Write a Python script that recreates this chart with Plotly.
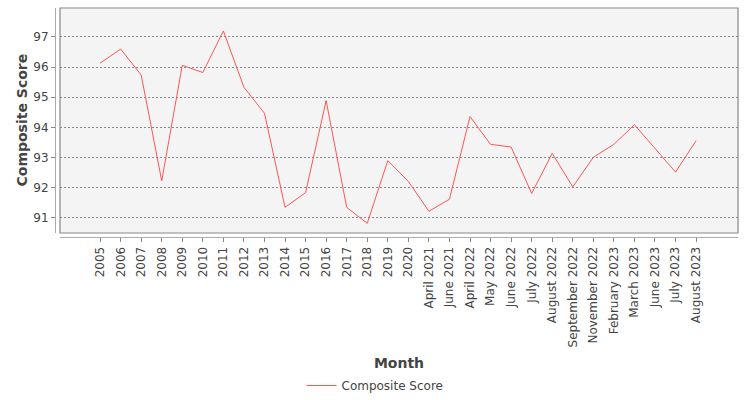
import plotly.graph_objects as go

# categories on the x axis
months = ["2005", "2006", "2007", "2008", "2009", "2010", "2011", "2012",
          "2013", "2014", "2015", "2016", "2017", "2018", "2019", "2020",
          "April 2021", "June 2021", "April 2022", "May 2022", "June 2022",
          "July 2022", "August 2022", "September 2022", "November 2022",
          "February 2023", "March 2023", "June 2023", "July 2023",
          "August 2023"]

# composite score per month
scores = [96.13, 96.60, 95.74, 92.23, 96.06, 95.82, 97.20, 95.33,
          94.47, 91.35, 91.84, 94.89, 91.35, 90.82, 92.90, 92.21,
          91.22, 91.62, 94.36, 93.44, 93.35, 91.81, 93.14, 92.03,
          93.01, 93.44, 94.09, 93.31, 92.52, 93.56]

y_ticks = [91, 92, 93, 94, 95, 96, 97]

fnt = "DejaVu Sans, Liberation Sans, sans-serif"
grey = "#444444"

fig = go.Figure()
fig.add_trace(go.Scatter(x=months, y=scores, mode="lines", name="Composite Score",
                         line=dict(color="#ff5555", width=1)))

# frame around the plot area
fig.add_shape(type="rect", xref="x domain", yref="y domain", x0=0, x1=1, y0=0, y1=1,
              line=dict(color="#888888", width=1.2), layer="above")

# y axis title placed by hand (axis titles ignore standoff without automargin)
fig.add_annotation(text="<b>Composite Score</b>", textangle=-90, showarrow=False,
                   xref="paper", x=(21 - 55) / 683, xanchor="center",
                   yref="y domain", y=0.5, yanchor="middle",
                   font=dict(size=14, color=grey))

fig.update_layout(
    width=750, height=400,
    margin=dict(l=55, r=12, t=8, b=163, autoexpand=False),
    paper_bgcolor="white", plot_bgcolor="#f4f4f4",
    font=dict(family=fnt, size=12, color=grey),
    showlegend=True,
    legend=dict(orientation="h", x=0.5, xanchor="center", xref="container",
                y=11, yanchor="middle", yref="container", itemwidth=30,
                font=dict(size=12, color=grey)),
    xaxis=dict(type="category", domain=[5 / 683, 1], anchor="free", position=0,
               range=[-1.95, 31.04], tickangle=-90, showgrid=False, automargin=False,
               showline=True, linecolor="#aaaaaa", linewidth=1,
               ticks="outside", ticklen=4, tickcolor="#888888",
               tickfont=dict(size=12, color=grey),
               title=dict(text="<b>Month</b>", font=dict(size=14, color=grey))),
    yaxis=dict(domain=[4 / 229, 1], anchor="free", position=0,
               range=[90.5, 97.96], tickvals=y_ticks, showgrid=True, automargin=False,
               gridcolor="#8a8a8a", griddash="2px,2px", gridwidth=1, zeroline=False,
               showline=True, linecolor="#aaaaaa", linewidth=1,
               ticks="outside", ticklen=4, tickcolor="#888888",
               tickfont=dict(size=12, color=grey)),
)

# drop the browser's default page margin so the figure sits at the window corner
fig.write_html("out.html", config={"displayModeBar": False},
               post_script="document.body.style.margin='0';")
